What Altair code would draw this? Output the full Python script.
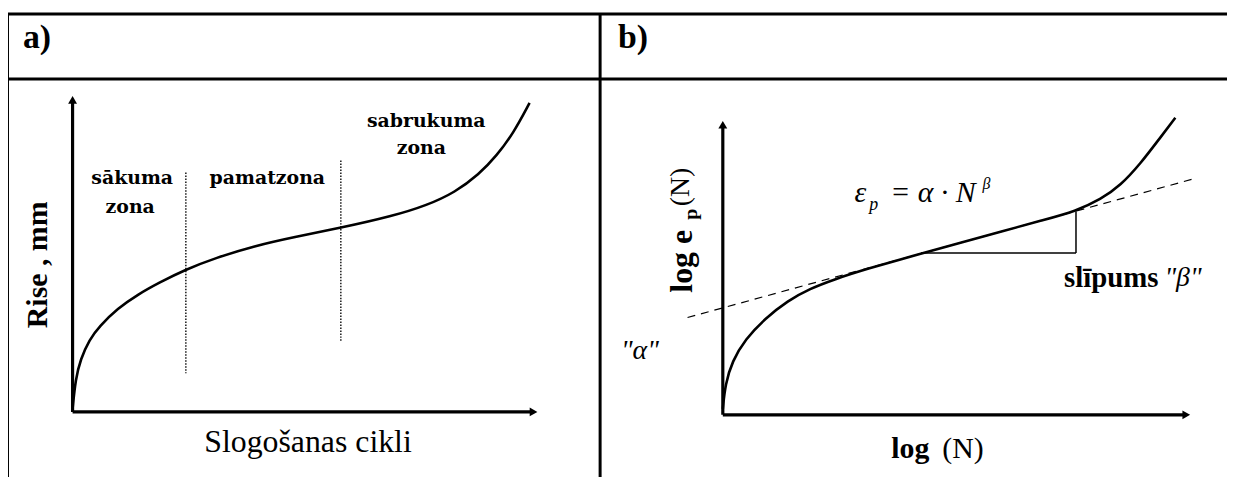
import altair as alt
import pandas as pd

# ---------------- data ----------------
# panel a curve (Rise vs load cycles)
a_curve_x = [73, 76, 81, 90, 100, 118, 140, 160, 186, 217, 256, 296, 342, 395, 430, 458, 482, 500, 517, 533]
a_curve_y = [410, 380, 360, 340, 327, 309, 294, 283, 270, 258, 246, 237, 228, 216, 205, 192, 174, 155, 132, 102]

# panel b curve (log-log)
b_curve_x = [727.5, 730, 737, 750, 770, 793, 815, 840, 871, 927, 970, 1010, 1049, 1083, 1108, 1128, 1148, 1167, 1183]
b_curve_y = [410, 385, 362, 340, 319, 301, 289, 279.5, 269.5, 253.6, 241.8, 230.9, 220.2, 210.9, 199, 185, 163, 138, 117]

# zone boundaries (dotted)
zone_x = [187, 343]
zone_y_top = [172, 160]
zone_y_bot = [374, 342]

# tangent (dashed) line of panel b
tan_x = [692, 1203]
tan_y = [318, 178]

# slope triangle
tri_x1 = [927, 1083]
tri_y1 = [253, 253]
tri_x2 = [1083, 1083]
tri_y2 = [253, 211]

# axes (x1, y1, x2, y2)
axis_x1 = [73, 73, 727.5, 727.5]
axis_y1 = [413, 413, 416, 416]
axis_x2 = [73, 537, 727.5, 1194]
axis_y2 = [100, 413, 124, 416]
head_up_x = [73, 727.5]
head_up_y = [99, 124]
head_right_x = [537, 1194]
head_right_y = [413, 416]

# table frame
frame_x1 = [7.5, 7.5, 7.5, 604]
frame_y1 = [12.5, 78, 12.5, 12.5]
frame_x2 = [1235, 1235, 7.5, 604]
frame_y2 = [12.5, 78, 485, 485]

# texts
head_labels = ["a)", "b)"]
head_x = [23, 622]
head_y = [47, 47]

zone_labels = ["sākuma", "zona", "pamatzona", "sabrukuma", "zona"]
zone_lx = [133, 131, 269, 429, 424]
zone_ly = [178, 207, 178, 120, 147]

# ---------------- chart ----------------
W, H = 1227, 469
xs = alt.Scale(domain=[8, 8 + W], nice=False, zero=False)
ys = alt.Scale(domain=[8, 8 + H], nice=False, zero=False, reverse=True)


def X(f="x"):
    return alt.X(f + ":Q", scale=xs, axis=None)


def Y(f="y"):
    return alt.Y(f + ":Q", scale=ys, axis=None)


def segs(x1, y1, x2, y2, **kw):
    df = pd.DataFrame({"x": x1, "y": y1, "x2": x2, "y2": y2})
    return alt.Chart(df).mark_rule(color="black", **kw).encode(
        x=X(), y=Y(), x2="x2:Q", y2="y2:Q")


def texts(t, x, y, **kw):
    df = pd.DataFrame({"t": t, "x": x, "y": y})
    return alt.Chart(df).mark_text(color="black", **kw).encode(
        x=X(), y=Y(), text="t:N")


def curve(x, y):
    df = pd.DataFrame({"x": x, "y": y})
    return alt.Chart(df).mark_line(color="black", strokeWidth=2.6,
                                   interpolate="basis").encode(x=X(), y=Y())


def heads(x, y, shape):
    df = pd.DataFrame({"x": x, "y": y})
    return alt.Chart(df).mark_point(shape=shape, filled=True, size=80,
                                    color="black", opacity=1).encode(x=X(), y=Y())


frame = segs(frame_x1, frame_y1, frame_x2, frame_y2, strokeWidth=3)
axes = segs(axis_x1, axis_y1, axis_x2, axis_y2, strokeWidth=3.2)
up = heads(head_up_x, head_up_y, "triangle-up")
right = heads(head_right_x, head_right_y, "triangle-right")

dotted = segs(zone_x, zone_y_top, zone_x, zone_y_bot, strokeWidth=1.6,
              strokeDash=[1.5, 1.5], opacity=0.85)
tangent = segs([tan_x[0]], [tan_y[0]], [tan_x[1]], [tan_y[1]], strokeWidth=1.2,
               strokeDash=[8, 6])
triangle = segs(tri_x1, tri_y1, tri_x2, tri_y2, strokeWidth=1.5)

ca = curve(a_curve_x, a_curve_y)
cb = curve(b_curve_x, b_curve_y)

serif = "Liberation Serif, serif"
t_head = texts(head_labels, head_x, head_y, font=serif, fontSize=34,
               fontWeight="bold", align="left", baseline="alphabetic")
t_zone = texts(zone_labels, zone_lx, zone_ly, font="DejaVu Serif, serif", fontSize=19,
               fontWeight="bold", align="center", baseline="middle")
t_xa = texts(["Slogošanas cikli"], [310], [443], font=serif, fontSize=32,
             align="center", baseline="middle")
t_ya = texts(["Rise , mm"], [38], [265], font=serif, fontSize=30,
             fontWeight="bold", angle=270, align="center", baseline="middle")

t_xb1 = texts(["log"], [897], [450], font=serif, fontSize=30, fontWeight="bold",
              align="left", baseline="middle")
t_xb2 = texts(["(N)"], [990], [450], font=serif, fontSize=30,
              align="right", baseline="middle")
t_yb1 = texts(["log e"], [686], [293], font=serif, fontSize=32, fontWeight="bold",
              angle=270, align="left", baseline="middle")
t_yb2 = texts(["p"], [696], [214], font=serif, fontSize=20, fontWeight="bold",
              angle=270, align="center", baseline="middle")
t_yb3 = texts(["(N)"], [685], [206], font=serif, fontSize=28,
              angle=270, align="left", baseline="middle")

t_f1 = texts(["ε"], [860], [193], font=serif, fontSize=30, fontStyle="italic",
             align="left", baseline="middle")
t_f2 = texts(["p"], [875], [205], font=serif, fontSize=18, fontStyle="italic",
             align="left", baseline="middle")
t_f3 = texts(["= α · N"], [896], [193], font=serif, fontSize=30, fontStyle="italic",
             align="left", baseline="middle")
t_f4 = texts(["β"], [989], [184], font=serif, fontSize=16, fontStyle="italic",
             align="left", baseline="middle")

t_sl = texts(["slīpums"], [1071], [278], font=serif, fontSize=29, fontWeight="bold",
             align="left", baseline="middle")
t_beta = texts(["\"β\""], [1172], [278], font=serif, fontSize=28, fontStyle="italic",
               align="left", baseline="middle")
t_alpha = texts(["\"α\""], [644], [352], font=serif, fontSize=28, fontStyle="italic",
                align="center", baseline="middle")

chart = alt.layer(
    frame, dotted, tangent, triangle, ca, cb, axes, up, right,
    t_head, t_zone, t_xa, t_ya, t_xb1, t_xb2, t_yb1, t_yb2, t_yb3,
    t_f1, t_f2, t_f3, t_f4, t_sl, t_beta, t_alpha,
).properties(width=W, height=H, padding=0, autosize="none").configure_view(stroke=None)

chart.save("out.html", embed_options={"renderer": "svg", "actions": False})
